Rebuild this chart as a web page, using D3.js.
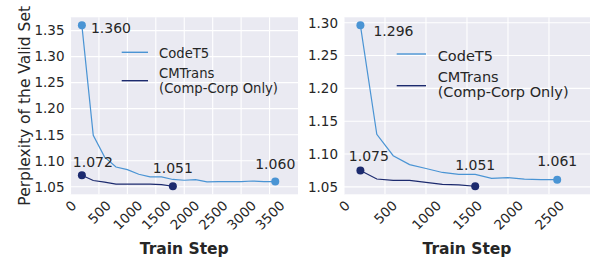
<!DOCTYPE html>
<html>
<head>
<meta charset="utf-8">
<script src="https://cdn.jsdelivr.net/npm/d3@7"></script>
<style>
  html, body { margin: 0; padding: 0; background: #ffffff; }
  svg { display: block; font-family: "DejaVu Sans", sans-serif; }
</style>
</head>
<body>
<svg id="chart" width="590" height="262"></svg>
<script>
// ---------- data ----------
const seriesNames = ["CodeT5", "CMTrans\n(Comp-Corp Only)"];

const leftStepsCodeT5 = [200, 400, 600, 800, 1000, 1200, 1400, 1600, 1800, 2000, 2200, 2400, 2600, 2800, 3000, 3200, 3400, 3600];
const leftCodeT5 = [1.360, 1.149, 1.107, 1.088, 1.083, 1.074, 1.069, 1.069, 1.064, 1.0625, 1.0635, 1.0595, 1.060, 1.060, 1.060, 1.061, 1.060, 1.060];
const leftStepsCMTrans = [200, 400, 600, 800, 1000, 1200, 1400, 1600, 1800];
const leftCMTrans = [1.072, 1.062, 1.059, 1.055, 1.055, 1.055, 1.055, 1.054, 1.051];

const rightStepsCodeT5 = [200, 400, 600, 800, 1000, 1200, 1400, 1600, 1800, 2000, 2200, 2400, 2600];
const rightCodeT5 = [1.296, 1.130, 1.0975, 1.084, 1.078, 1.072, 1.069, 1.069, 1.063, 1.064, 1.062, 1.061, 1.061];
const rightStepsCMTrans = [200, 400, 600, 800, 1000, 1200, 1400, 1600];
const rightCMTrans = [1.075, 1.062, 1.060, 1.060, 1.057, 1.054, 1.053, 1.051];

const leftXTicks = [0, 500, 1000, 1500, 2000, 2500, 3000, 3500];
const rightXTicks = [0, 500, 1000, 1500, 2000, 2500];
const leftYTicks = [1.05, 1.10, 1.15, 1.20, 1.25, 1.30, 1.35];
const rightYTicks = [1.05, 1.10, 1.15, 1.20, 1.25, 1.30];

const xLabel = "Train Step";
const yLabel = "Perplexity of the Valid Set";

// ---------- style ----------
const colorCodeT5 = "#4a94d4";
const colorCMTrans = "#1c2a6e";
const bg = "#eaeaf2";
const textColor = "#262626";

const svg = d3.select("#chart");

function panel(cfg) {
  const x = d3.scaleLinear().domain(cfg.xDomain).range([cfg.left, cfg.right]);
  const y = d3.scaleLinear().domain(cfg.yDomain).range([cfg.bottom, cfg.top]);
  const g = svg.append("g");

  g.append("rect")
    .attr("x", cfg.left).attr("y", cfg.top)
    .attr("width", cfg.right - cfg.left).attr("height", cfg.bottom - cfg.top)
    .attr("fill", bg);

  // grid
  g.selectAll(".vg").data(cfg.xTicks).enter().append("line")
    .attr("x1", d => x(d)).attr("x2", d => x(d))
    .attr("y1", cfg.top).attr("y2", cfg.bottom)
    .attr("stroke", "#ffffff").attr("stroke-width", 1.1);
  g.selectAll(".hg").data(cfg.yTicks).enter().append("line")
    .attr("x1", cfg.left).attr("x2", cfg.right)
    .attr("y1", d => y(d)).attr("y2", d => y(d))
    .attr("stroke", "#ffffff").attr("stroke-width", 1.1);

  // y tick labels via axis
  const yAxis = d3.axisLeft(y).tickValues(cfg.yTicks).tickSize(0).tickPadding(6)
    .tickFormat(d3.format(".2f"));
  const ya = g.append("g").attr("transform", `translate(${cfg.left},0)`).call(yAxis);
  ya.select(".domain").remove();
  ya.selectAll("text").attr("font-size", 13.5).attr("fill", textColor)
    .attr("font-family", "DejaVu Sans");

  // x tick labels rotated 45
  const xAxis = d3.axisBottom(x).tickValues(cfg.xTicks).tickSize(0).tickFormat(d3.format("d"));
  const xa = g.append("g").attr("transform", `translate(0,${cfg.bottom})`).call(xAxis);
  xa.select(".domain").remove();
  xa.selectAll("text").each(function(d) {
    const t = d3.select(this);
    t.attr("font-size", 13.5).attr("fill", textColor).attr("font-family", "DejaVu Sans")
      .attr("text-anchor", "middle").attr("dy", "0.35em").attr("y", 0);
    const w = this.getComputedTextLength();
    const h = 13.5;
    const cy = 4 + (w + h) / (2 * Math.SQRT2);
    t.attr("transform", `translate(0,${cy}) rotate(-45)`);
  });

  // lines
  const line = d3.line().x(d => x(d[0])).y(d => y(d[1]));
  const s1 = cfg.stepsA.map((s, i) => [s, cfg.valsA[i]]);
  const s2 = cfg.stepsB.map((s, i) => [s, cfg.valsB[i]]);
  g.append("path").datum(s1).attr("d", line).attr("fill", "none")
    .attr("stroke", colorCodeT5).attr("stroke-width", 1.2);
  g.append("path").datum(s2).attr("d", line).attr("fill", "none")
    .attr("stroke", colorCMTrans).attr("stroke-width", 1.2);

  // end markers
  const ends = [
    {p: s1[0], c: colorCodeT5, dx: cfg.ann[0][0], dy: cfg.ann[0][1], a: cfg.ann[0][2]},
    {p: s1[s1.length - 1], c: colorCodeT5, dx: cfg.ann[1][0], dy: cfg.ann[1][1], a: cfg.ann[1][2]},
    {p: s2[0], c: colorCMTrans, dx: cfg.ann[2][0], dy: cfg.ann[2][1], a: cfg.ann[2][2]},
    {p: s2[s2.length - 1], c: colorCMTrans, dx: cfg.ann[3][0], dy: cfg.ann[3][1], a: cfg.ann[3][2]},
  ];
  g.selectAll(".mk").data(ends).enter().append("circle")
    .attr("cx", d => x(d.p[0])).attr("cy", d => y(d.p[1])).attr("r", 4)
    .attr("fill", d => d.c);
  g.selectAll(".an").data(ends).enter().append("text")
    .attr("x", d => x(d.p[0]) + d.dx).attr("y", d => y(d.p[1]) + d.dy)
    .attr("text-anchor", d => d.a)
    .attr("font-size", 14).attr("fill", textColor)
    .text(d => d3.format(".3f")(d.p[1]));

  // legend
  const L = cfg.legend;
  const items = [
    {c: colorCodeT5, lines: seriesNames[0].split("\n"), ly: L.y0, by: L.b0},
    {c: colorCMTrans, lines: seriesNames[1].split("\n"), ly: L.y1, by: L.b1},
  ];
  items.forEach(it => {
    g.append("line").attr("x1", L.x0).attr("x2", L.x1)
      .attr("y1", it.ly).attr("y2", it.ly)
      .attr("stroke", it.c).attr("stroke-width", 1.4);
    it.lines.forEach((s, i) => {
      g.append("text").attr("x", L.tx).attr("y", it.by + i * L.lh)
        .attr("font-size", L.fs).attr("fill", textColor).text(s);
    });
  });

  // x label
  g.append("text").attr("x", (cfg.left + cfg.right) / 2).attr("y", 253.5)
    .attr("text-anchor", "middle").attr("font-weight", "bold")
    .attr("font-size", 15.5).attr("fill", textColor).text(xLabel);

  if (cfg.yLabel) {
    g.append("text")
      .attr("transform", `translate(29.5,${(cfg.top + cfg.bottom) / 2}) rotate(-90)`)
      .attr("text-anchor", "middle").attr("font-size", 15.5).attr("fill", textColor)
      .text(cfg.yLabel);
  }
}

panel({
  left: 70.5, right: 298, top: 17.3, bottom: 194.3,
  xDomain: [0, 4000], yDomain: [1.0355, 1.3755],
  xTicks: leftXTicks, yTicks: leftYTicks,
  stepsA: leftStepsCodeT5, valsA: leftCodeT5,
  stepsB: leftStepsCMTrans, valsB: leftCMTrans,
  ann: [[9, 7.5, "start"], [0, -13, "middle"], [11, -8, "middle"], [0, -13, "middle"]],
  legend: {x0: 121.7, x1: 148, tx: 159, y0: 52.3, b0: 57.5, y1: 80.7, b1: 77.8, fs: 13.2, lh: 14.8},
  yLabel: yLabel
});

panel({
  left: 344, right: 590, top: 17.3, bottom: 194.3,
  xDomain: [0, 3000], yDomain: [1.03875, 1.30825],
  xTicks: rightXTicks, yTicks: rightYTicks,
  stepsA: rightStepsCodeT5, valsA: rightCodeT5,
  stepsB: rightStepsCMTrans, valsB: rightCMTrans,
  ann: [[13, 11, "start"], [0, -13.5, "middle"], [8.5, -9.5, "middle"], [0, -16.5, "middle"]],
  legend: {x0: 396.7, x1: 426, tx: 437.7, y0: 54, b0: 60.5, y1: 85.7, b1: 81.7, fs: 14.5, lh: 15.5},
  yLabel: null
});
</script>
</body>
</html>
